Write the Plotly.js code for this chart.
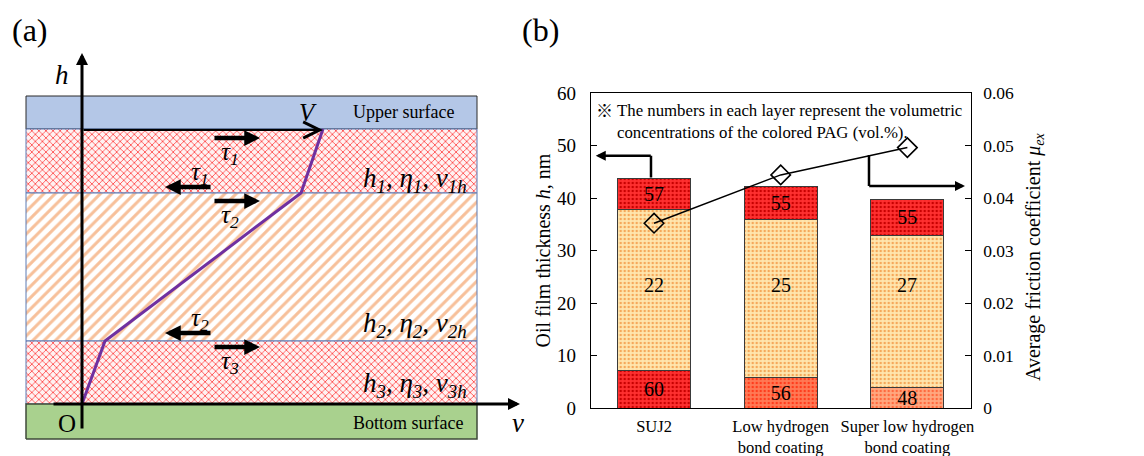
<!DOCTYPE html>
<html>
<head>
<meta charset="utf-8">
<script src="https://cdn.plot.ly/plotly-3.0.1.min.js"></script>
<style>html,body{margin:0;padding:0;background:#fff;}#chart{width:1144px;height:456px;}</style>
</head>
<body>
<div id="chart"></div>
<script>
// ---------- Panel (b) data ----------
const categories = ['SUJ2', 'Low hydrogen<br>bond coating', 'Super low hydrogen<br>bond coating'];
const bottomLayer = [7.1, 5.9, 3.9];      // nm
const middleLayer = [30.8, 30.0, 28.9];   // nm
const topLayer = [5.9, 6.2, 7.0];         // nm
const bottomConc = [60, 56, 48];          // vol.%
const middleConc = [22, 25, 27];
const topConc = [57, 55, 55];
const friction = [0.0352, 0.0444, 0.0496];
const leftTicks = [0, 10, 20, 30, 40, 50, 60];
const rightTicks = [0, 0.01, 0.02, 0.03, 0.04, 0.05, 0.06];

// ---------- Panel (a) schematic data (schematic units) ----------
const boxX = [-56, 395];
const upperSurface = [275, 308];
const layer1 = [211, 275];
const layer2 = [63, 211];
const layer3 = [0, 63];
const bottomSurface = [-35, 0];
const profileV = [0, 23, 219, 241];
const profileH = [0, 63, 211, 275];
const tauRightX = [131, 178];
const tauLeftX = [130, 83];
const tauRightY = [266, 203, 57];
const tauLeftY = [217, 71];
const tauRightLabels = ['τ<sub>1</sub>', 'τ<sub>2</sub>', 'τ<sub>3</sub>'];
const tauLeftLabels = ['τ<sub>1</sub>', 'τ<sub>2</sub>'];
const layerLabels = ['h<sub>1</sub>, η<sub>1</sub>, v<sub>1h</sub>', 'h<sub>2</sub>, η<sub>2</sub>, v<sub>2h</sub>', 'h<sub>3</sub>, η<sub>3</sub>, v<sub>3h</sub>'];

const SERIF = 'Liberation Serif, Times New Roman, serif';
const W = 1144, H = 456;

function rect(xr, yr, fill, line, pattern) {
  const t = {
    x: [xr[0], xr[1], xr[1], xr[0], xr[0]],
    y: [yr[0], yr[0], yr[1], yr[1], yr[0]],
    xaxis: 'x2', yaxis: 'y3', mode: 'lines', fill: 'toself',
    fillcolor: fill, line: line, hoverinfo: 'skip', showlegend: false
  };
  if (pattern) t.fillpattern = pattern;
  return t;
}

const traces = [];
const wave = {shape: 'x', fgcolor: '#ff4545', bgcolor: '#fff2f2', size: 5, solidity: 0.3};
traces.push(rect(boxX, upperSurface, '#b4c7e7', {color: '#2b2b2b', width: 1}));
traces.push(rect(boxX, layer1, '#ffe6e6', {color: '#5b7bb5', width: 1}, wave));
traces.push(rect(boxX, layer2, '#ffffff', {color: '#5b7bb5', width: 1},
  {shape: '/', fgcolor: '#f7c09a', bgcolor: '#ffffff', size: 8, solidity: 0.38}));
traces.push(rect(boxX, layer3, '#ffe6e6', {color: '#5b7bb5', width: 1}, wave));
traces.push(rect(boxX, bottomSurface, '#a9d18e', {color: '#3f4a3a', width: 1.5}));
traces.push({x: profileV, y: profileH, xaxis: 'x2', yaxis: 'y3', mode: 'lines',
  line: {color: '#7030a0', width: 3}, hoverinfo: 'skip', showlegend: false});

// stacked bars
const NUMSIZE = 20;
const barCommon = {type: 'bar', width: 0.576, xaxis: 'x', yaxis: 'y',
  hoverinfo: 'skip', showlegend: false, textposition: 'inside', insidetextanchor: 'middle',
  constraintext: 'none', textangle: 0, textfont: {family: SERIF, size: NUMSIZE, color: '#000'}};
const barLine = {color: '#3a3a3a', width: 1};
// bottom layer: one trace per category so each gets its own pattern colours
const bottomBg = ['#ff3030', '#ff7a56', '#ffa880'];
const bottomFg = ['#c80000', '#ff3c1c', '#ff6a3e'];
categories.forEach((c, i) => traces.push(Object.assign({}, barCommon, {
  x: [c], y: [bottomLayer[i]], text: [String(bottomConc[i])],
  marker: {color: bottomBg[i], line: barLine,
    pattern: {shape: '.', fgcolor: bottomFg[i], bgcolor: bottomBg[i], size: 4, solidity: 0.3}}
})));
traces.push(Object.assign({}, barCommon, {
  x: categories, y: middleLayer, text: middleConc.map(() => ''),
  marker: {color: '#ffe4a8', line: barLine,
    pattern: {shape: '.', fgcolor: '#f5a85a', bgcolor: '#ffe6ae', size: 4, solidity: 0.3}}
}));
traces.push(Object.assign({}, barCommon, {
  x: categories, y: topLayer, text: topConc.map(String),
  marker: {color: '#ff3030', line: barLine,
    pattern: {shape: '.', fgcolor: '#c80000', bgcolor: '#ff3030', size: 4, solidity: 0.3}}
}));
traces.push({x: categories, y: friction, xaxis: 'x', yaxis: 'y2', mode: 'lines+markers', type: 'scatter',
  line: {color: '#000', width: 1.5},
  marker: {symbol: 'diamond-open', size: 15, color: '#000', line: {width: 1.6, color: '#000'}},
  hoverinfo: 'skip', showlegend: false});

// ---------- annotations ----------
const ann = [];
const C = {xanchor: 'center', yanchor: 'middle', showarrow: false};
const middleLabelY = 23.5;
middleConc.forEach((v, i) => ann.push(Object.assign({}, C, {xref: 'x', yref: 'y', x: categories[i], y: middleLabelY, text: String(v),
  font: {family: SERIF, size: NUMSIZE, color: '#000'}})));

ann.push(Object.assign({}, C, {xref: 'paper', yref: 'paper', x: 604 / W, y: 1 - 110 / H, text: '※',
  font: {family: 'Noto Sans CJK JP, sans-serif', size: 17, color: '#000'}}));
ann.push(Object.assign({}, C, {xref: 'paper', yref: 'paper', x: 615 / W, y: 1 - 121.5 / H, xanchor: 'left', align: 'left',
  text: 'The numbers in each layer represent the volumetric<br>concentrations of the colored PAG (vol.%).',
  font: {family: SERIF, size: 16.8, color: '#000'}}));

ann.push(Object.assign({}, C, {xref: 'paper', yref: 'paper', x: 543 / W, y: 1 - 250.5 / H, textangle: -90,
  text: 'Oil film thickness <i>h</i>, nm', font: {family: SERIF, size: 20, color: '#000'}}));
ann.push(Object.assign({}, C, {xref: 'paper', yref: 'paper', x: 1034 / W, y: 1 - 257 / H, textangle: -90,
  text: 'Average friction coefficient <i>μ</i><sub><i>ex</i></sub>', font: {family: SERIF, size: 20, color: '#000'}}));

ann.push(Object.assign({}, C, {xref: 'paper', yref: 'paper', x: 30 / W, y: 1 - 30 / H, text: '(a)',
  font: {family: SERIF, size: 32, color: '#000'}}));
ann.push(Object.assign({}, C, {xref: 'paper', yref: 'paper', x: 540 / W, y: 1 - 30 / H, text: '(b)',
  font: {family: SERIF, size: 32, color: '#000'}}));

// panel (b) pointer arrows
const leftArrow = {x0: -0.024, yBar: 43.9, yTurn: 48.06, xEnd: -0.46};
const rightArrow = {x0: 1.697, yLine: 48.2, yTurn: 42.3, xEnd: 2.455};
ann.push({xref: 'x', yref: 'y', axref: 'x', ayref: 'y', x: leftArrow.xEnd, y: leftArrow.yTurn,
  ax: leftArrow.x0 + 0.01, ay: leftArrow.yTurn, text: '', showarrow: true, arrowhead: 2, arrowwidth: 2.5, arrowsize: 0.8, arrowcolor: '#000'});
ann.push({xref: 'x', yref: 'y', axref: 'x', ayref: 'y', x: rightArrow.xEnd, y: rightArrow.yTurn,
  ax: rightArrow.x0 - 0.01, ay: rightArrow.yTurn, text: '', showarrow: true, arrowhead: 2, arrowwidth: 2.5, arrowsize: 0.8, arrowcolor: '#000'});

// panel (a) annotations
const A = {xref: 'x2', yref: 'y3', axref: 'x2', ayref: 'y3'};
const AT = Object.assign({}, A, C);
ann.push(Object.assign({}, A, {x: 0, y: 351, ax: 0, ay: -26, text: '', showarrow: true, arrowhead: 2, arrowwidth: 3, arrowsize: 0.8, arrowcolor: '#000'}));
ann.push(Object.assign({}, A, {x: 438, y: 0, ax: -30, ay: 0, text: '', showarrow: true, arrowhead: 2, arrowwidth: 3, arrowsize: 0.8, arrowcolor: '#000'}));
ann.push(Object.assign({}, A, {x: profileV[3], y: 274, ax: 0, ay: 274, text: '', showarrow: true, arrowhead: 5, arrowwidth: 2, arrowsize: 1.6, arrowcolor: '#000'}));
tauRightY.forEach((yy, i) => {
  ann.push(Object.assign({}, A, {x: tauRightX[1], y: yy, ax: tauRightX[0], ay: yy, text: '', showarrow: true, arrowhead: 2, arrowwidth: 4.5, arrowsize: 0.7, arrowcolor: '#000'}));
  ann.push(Object.assign({}, AT, {x: 148, y: yy - 15, text: '<i>' + tauRightLabels[i] + '</i>', font: {family: SERIF, size: 25, color: '#000'}}));
});
tauLeftY.forEach((yy, i) => {
  ann.push(Object.assign({}, A, {x: tauLeftX[1], y: yy, ax: tauLeftX[0], ay: yy, text: '', showarrow: true, arrowhead: 2, arrowwidth: 4.5, arrowsize: 0.7, arrowcolor: '#000'}));
  ann.push(Object.assign({}, AT, {x: 118, y: yy + 14, text: '<i>' + tauLeftLabels[i] + '</i>', font: {family: SERIF, size: 25, color: '#000'}}));
});
const layerLabelY = [224, 79, 19];
layerLabels.forEach((t, i) => ann.push(Object.assign({}, AT, {x: 387, y: layerLabelY[i], xanchor: 'right', text: '<i>' + t + '</i>',
  font: {family: SERIF, size: 27, color: '#000'}})));
ann.push(Object.assign({}, AT, {x: 321, y: 292, text: 'Upper surface', font: {family: SERIF, size: 18, color: '#000'}}));
ann.push(Object.assign({}, AT, {x: 326, y: -19, text: 'Bottom surface', font: {family: SERIF, size: 18, color: '#000'}}));
ann.push(Object.assign({}, AT, {x: 226, y: 292, text: '<i>V</i>', font: {family: SERIF, size: 25, color: '#000'}}));
ann.push(Object.assign({}, AT, {x: -15, y: -19, text: 'O', font: {family: SERIF, size: 25, color: '#000'}}));
ann.push(Object.assign({}, AT, {x: -20, y: 329, text: '<i>h</i>', font: {family: SERIF, size: 27, color: '#000'}}));
ann.push(Object.assign({}, AT, {x: 436, y: -19, text: '<i>v</i>', font: {family: SERIF, size: 27, color: '#000'}}));

const shapes = [
  {type: 'line', xref: 'x', yref: 'y', x0: leftArrow.x0, x1: leftArrow.x0, y0: leftArrow.yBar, y1: leftArrow.yTurn, line: {color: '#000', width: 2.5}},
  {type: 'line', xref: 'x', yref: 'y', x0: rightArrow.x0, x1: rightArrow.x0, y0: rightArrow.yLine, y1: rightArrow.yTurn, line: {color: '#000', width: 2.5}}
];

const layout = {
  width: W, height: H, autosize: false,
  margin: {l: 0, r: 0, t: 0, b: 0, pad: 0},
  paper_bgcolor: '#fff', plot_bgcolor: 'rgba(0,0,0,0)',
  barmode: 'stack', showlegend: false,
  uniformtext: {minsize: NUMSIZE, mode: 'show'},
  font: {family: SERIF, color: '#000'},
  xaxis: {domain: [590.7 / W, 970.7 / W], anchor: 'y', type: 'category', range: [-0.5, 2.5],
    categoryorder: 'array', categoryarray: categories,
    showline: true, mirror: true, linecolor: '#000', linewidth: 1, ticks: '', showgrid: false,
    tickfont: {family: SERIF, size: 16.5, color: '#000'}, ticklabelstandoff: 3, fixedrange: true},
  yaxis: {domain: [48 / H, 363 / H], anchor: 'x', range: [0, 60], tickvals: leftTicks,
    showline: true, linecolor: '#000', linewidth: 1, ticks: 'inside', ticklen: 6, tickcolor: '#000',
    showgrid: false, zeroline: false, tickfont: {family: SERIF, size: 19, color: '#000'}, ticklabelstandoff: 10},
  yaxis2: {overlaying: 'y', side: 'right', anchor: 'x', range: [0, 0.06], tickvals: rightTicks,
    ticktext: rightTicks.map(v => v === 0 ? '0' : v.toFixed(2)),
    showline: true, linecolor: '#000', linewidth: 1, ticks: 'inside', ticklen: 6, tickcolor: '#000',
    showgrid: false, zeroline: false, tickfont: {family: SERIF, size: 17.5, color: '#000'}, ticklabelstandoff: 8},
  xaxis2: {domain: [0, 549 / W], anchor: 'y3', range: [-82, 467], visible: false, fixedrange: true},
  yaxis3: {domain: [0, 1], anchor: 'x2', range: [-52, 404], visible: false, fixedrange: true},
  annotations: ann,
  shapes: shapes
};

Plotly.newPlot('chart', traces, layout, {staticPlot: true, displayModeBar: false});
</script>
</body>
</html>
